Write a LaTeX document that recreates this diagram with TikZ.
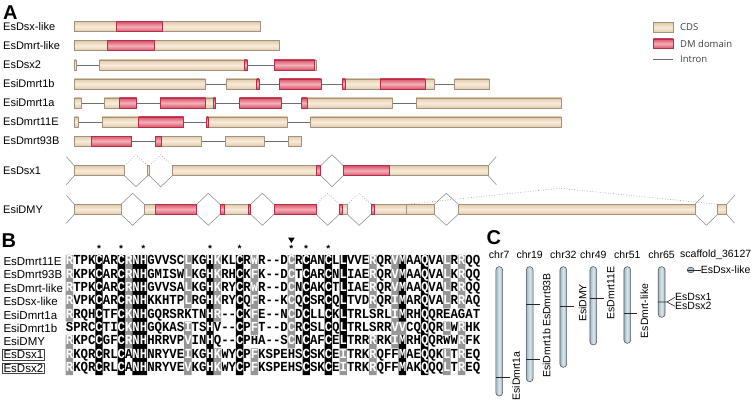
\documentclass[tikz,border=0pt]{standalone}
\usepackage{fontspec}
\usetikzlibrary{shapes.geometric}
\setmainfont{Liberation Sans}
\newfontfamily\monofont{Liberation Mono}
\newfontfamily\legfont{Open Sans}
\definecolor{cdsmid}{HTML}{F8EBDB}
\definecolor{cdsedge}{HTML}{E3CBAB}
\definecolor{cdsline}{HTML}{A0927F}
\definecolor{dmmid}{HTML}{F4B0B8}
\definecolor{dmedge}{HTML}{D9536A}
\definecolor{dmline}{HTML}{B52E45}
\definecolor{intronc}{HTML}{6E6E6E}
\definecolor{splicec}{HTML}{8C8C8C}
\definecolor{algray}{HTML}{969696}
\definecolor{chrmid}{HTML}{D8E5EA}
\definecolor{chredge}{HTML}{A3B9C3}
\definecolor{chrline}{HTML}{505A60}
\tikzset{
 cdsbox/.style={draw=cdsline, line width=0.6pt, top color=cdsedge, bottom color=cdsedge, middle color=cdsmid},
 dmbox/.style={draw=dmline, line width=0.6pt, top color=dmedge, bottom color=dmedge, middle color=dmmid},
 intron/.style={draw=intronc, line width=0.7pt},
 splice/.style={draw=splicec, line width=0.55pt},
 spliced/.style={draw=splicec, line width=0.6pt, dotted},
 genelab/.style={anchor=west, inner sep=0pt, font=\fontsize{11}{13}\selectfont},
 panellab/.style={anchor=west, inner sep=0pt, font=\bfseries\fontsize{20}{20}\selectfont},
 leglab/.style={anchor=west, inner sep=0pt, text=black!75, font=\legfont\fontsize{9.5}{11}\selectfont},
 seqname/.style={anchor=west, inner sep=0pt, font=\fontsize{11.5}{13}\selectfont},
 boxname/.style={seqname, draw=black!75, line width=0.5pt, inner sep=1.3pt},
 seqtext/.style={anchor=west, inner sep=0pt, font=\monofont\bfseries\fontsize{12.33}{13}\selectfont},
 starlab/.style={inner sep=0pt, font=\monofont\bfseries\fontsize{10}{10}\selectfont},
 chrlab/.style={inner sep=0pt, font=\fontsize{10.5}{12}\selectfont},
 chrbox/.style={draw=chrline, line width=0.6pt, rounded corners=3.2pt, left color=chredge, right color=chredge, middle color=chrmid},
 chrtick/.style={draw=black!85, line width=0.6pt},
}
\newcommand\ex[3]{\path[cdsbox] (#1,#3-5) rectangle (#2,#3+5);}
\newcommand\dm[3]{\path[dmbox] (#1,#3-5) rectangle (#2,#3+5);}
\newcommand\intr[3]{\draw[intron] (#1,#3) -- (#2,#3);}
\newcommand\vlow[3]{\draw[splice] (#1,#3+5) -- ({(#1+#2)/2},#3+16) -- (#2,#3+5);}
\newcommand\vhigh[3]{\draw[splice] (#1,#3-5) -- ({(#1+#2)/2},#3-16) -- (#2,#3-5);}
\newcommand\vhighd[3]{\draw[spliced] (#1,#3-5) -- ({(#1+#2)/2},#3-16) -- (#2,#3-5);}
\newcommand\cellrect[3]{({65.7+(#1-1)*7.4},{255.03+(#2-1)*13.333}) rectangle ({65.7+#1*7.4},{255.03+#3*13.333})}
\def\seqlist{RTPKCARCRNHGVVSCLKGHKKLCRWR-{}-DCRCANCLLVVERQRVMAAQVALRRQQ,
RKPKCARCRNHGMISWLKGHKRHCKFK-{}-DCTCARCNLIAERQRVMAAQVALKRQQ,
RTPKCARCRNHGVVSALKGHKRYCRWR-{}-DCNCAKCTLIAERQRVMAAQVALRRQQ,
RVPKCARCRNHKKHTPLRGHKRYCQFR-{}-KCQCSRCQLTVDRQRIMARQVALRRAQ,
RRQHCTFCKNHGQRSRKTNHR-{}-CKFE-{}-NCDCLLCKLTRLSRLIMRHQQREAGAT,
SPRCCTICKNHGQKASITSHV-{}-CPFT-{}-DCRCSLCQLTRLSRRVVCQQQRLWRHK,
RKPCCGFCRNHHRRVPVINHQ-{}-CPHA-{}-SCNCAFCELTRRRRKIMRHQQRWWRFK,
RKQRCRLCANHNRYVEIKGHKWYCPFKSPEHSCSKCEITRKRQFFMAEQQKLTREQ,
RKQRCRLCANHNRYVEVKGHKWYCPFKSPEHSCSKCEITRKRQFFMAKQQQLTREQ}
\def\blacklist{5/1/9,8/1/9,10/1/9,11/1/9,20/1/9,24/1/9,33/1/9,36/1/9,38/1/7,46/1/5,46/7/9,49/1/9}
\def\graylist{1/1/5,1/7/9,9/1/7,17/1/4,17/6/9,21/1/5,21/8/9,26/1/6,26/8/9,31/1/7,38/8/9,42/1/4,42/7/9,45/1/7,46/6/6,52/1/4,52/6/6,52/8/9,54/1/4,54/6/9}
\begin{document}
\begin{tikzpicture}[x=1pt,y=-1pt,line join=round]
\useasboundingbox[fill=white] (0,0) rectangle (754,401);
% ---------------- panel A
\node[panellab] (pA) at (3,12.5) {A};
\def\ya{26.7}\def\yb{45.7}\def\yc{65}\def\yd{84}\def\ye{103}\def\yf{122}\def\yg{141}\def\yh{170.7}\def\yi{209.3}
\node[genelab] (g1) at (3,\ya) {EsDsx-like};
\node[genelab] (g2) at (3,\yb) {EsDmrt-like};
\node[genelab] (g3) at (3,\yc) {EsDsx2};
\node[genelab] (g4) at (3,\yd) {EsiDmrt1b};
\node[genelab] (g5) at (3,\ye) {EsiDmrt1a};
\node[genelab] (g6) at (3,\yf) {EsDmrt11E};
\node[genelab] (g7) at (3,\yg) {EsDmrt93B};
\node[genelab] (g8) at (3,\yh) {EsDsx1};
\node[genelab] (g9) at (3,\yi) {EsiDMY};
% row 1
\ex{74}{260.3}{\ya} \dm{116}{162.7}{\ya}
% row 2
\ex{74}{279.3}{\yb} \dm{107.3}{154.3}{\yb}
% row 3
\intr{76.7}{99.5}{\yc} \intr{247.3}{274}{\yc}
\ex{74.3}{76.7}{\yc} \ex{99.5}{247.3}{\yc} \dm{244.3}{247.3}{\yc} \ex{274}{316}{\yc} \dm{274}{314.7}{\yc}
% row 4
\intr{205.3}{226}{\yd} \intr{259}{279.3}{\yd} \intr{321.7}{342.3}{\yd} \intr{434}{454.7}{\yd}
\ex{74.3}{205.3}{\yd} \ex{226}{259}{\yd} \dm{256.7}{259}{\yd} \ex{279.3}{321.7}{\yd} \dm{279.3}{321}{\yd}
\ex{342.3}{434}{\yd} \dm{342.3}{345}{\yd} \dm{380}{425}{\yd} \ex{454.7}{489.3}{\yd}
% row 5
\intr{81.3}{104.3}{\ye} \intr{136.7}{160}{\ye} \intr{215.7}{239.3}{\ye} \intr{281.7}{301.7}{\ye} \intr{392.7}{416}{\ye}
\ex{74.3}{81.3}{\ye} \ex{104.3}{136.7}{\ye} \dm{119.3}{136.7}{\ye}
\ex{160}{215.7}{\ye} \dm{160}{205.7}{\ye} \dm{213.3}{215.7}{\ye}
\dm{239.3}{281.7}{\ye} \ex{301.7}{392.7}{\ye} \dm{301.7}{307.3}{\ye} \ex{416}{561.3}{\ye}
% row 6
\intr{78.3}{102}{\yf} \intr{183.7}{206.7}{\yf} \intr{287.3}{310.7}{\yf}
\ex{74.3}{78.3}{\yf} \ex{102}{183.7}{\yf} \dm{138.7}{183.7}{\yf}
\ex{206.7}{287.3}{\yf} \dm{206.7}{208.2}{\yf} \ex{310.7}{561.3}{\yf}
% row 7
\intr{131.7}{155}{\yg} \intr{201.7}{225.7}{\yg} \intr{264.3}{288.3}{\yg}
\ex{74.3}{131.7}{\yg} \dm{91}{131.7}{\yg} \ex{155}{201.7}{\yg} \dm{155}{161.7}{\yg}
\ex{225.7}{264.3}{\yg} \ex{288.3}{301.3}{\yg}
% row 8 EsDsx1
\draw[splice] (74.3,\yh-5) -- ++(-8,-9);
\draw[splice] (74.3,\yh+5) -- ++(-8,9);
\draw[splice] (488.3,\yh-5) -- ++(8,-9);
\draw[splice] (488.3,\yh+5) -- ++(8,9);
\vlow{124.3}{147.7}{\yh} \vlow{149.3}{172.3}{\yh} \vlow{320.7}{343.3}{\yh} \vhigh{320.7}{343.3}{\yh}
\vhighd{124.3}{147.7}{\yh} \vhighd{149.3}{172.3}{\yh}
\ex{74.3}{124.3}{\yh} \ex{147.7}{149.3}{\yh} \ex{172.3}{320.7}{\yh} \dm{316.7}{320.7}{\yh}
\ex{343.3}{488.3}{\yh} \dm{343.3}{389}{\yh}
% row 9 EsiDMY
\draw[splice] (74.3,\yi-5) -- ++(-8,-9);
\draw[splice] (74.3,\yi+5) -- ++(-8,9);
\draw[splice] (726.7,\yi-5) -- ++(8,-9);
\draw[splice] (726.7,\yi+5) -- ++(8,9);
\vlow{121}{144.3}{\yi} \vlow{196.7}{220}{\yi} \vlow{250.7}{274}{\yi} \vlow{316}{339.3}{\yi}
\vlow{347.3}{371}{\yi} \vlow{434.3}{458.3}{\yi} \vlow{695}{717.7}{\yi}
\vhigh{121}{144.3}{\yi} \vhigh{196.7}{220}{\yi} \vhigh{250.7}{274}{\yi} \vhigh{434.3}{458.3}{\yi}
\vhighd{316}{339.3}{\yi} \vhighd{347.3}{371}{\yi}
\draw[spliced] (406.3,\yi-5) -- (560,\yi-21) -- (717.7,\yi-5);
\draw[splice] (695,\yi-5) -- ++(9,-9);
\ex{74.3}{121}{\yi} \ex{144.3}{196.7}{\yi} \dm{155.3}{196.7}{\yi}
\ex{220}{250.7}{\yi} \dm{220}{224}{\yi} \dm{248}{250.7}{\yi}
\dm{274}{316}{\yi} \ex{339.3}{347.3}{\yi} \dm{339.3}{342}{\yi}
\ex{371}{406.3}{\yi} \dm{371}{374.7}{\yi} \ex{406.3}{434.3}{\yi}
\ex{458.3}{695}{\yi} \ex{717.7}{726.7}{\yi}
% legend
\path[cdsbox] (653.3,22.7) rectangle (673.3,32.3);
\path[dmbox] (653.3,39) rectangle (673.3,48.3);
\draw[intron] (653.3,59.3) -- (673.3,59.3);
\node[leglab] (lg1) at (680,27.5) {CDS};
\node[leglab] (lg2) at (680,43.7) {DM domain};
\node[leglab] (lg3) at (680,59.5) {Intron};
% ---------------- panel B
\node[panellab] (pB) at (1.5,241) {B};
\node[seqname] (n1) at (3.3,261.7) {EsDmrt11E};
\node[seqname] (n2) at (3.3,275.03) {EsDmrt93B};
\node[seqname] (n3) at (3.3,288.37) {EsDmrt-like};
\node[seqname] (n4) at (3.3,301.7) {EsDsx-like};
\node[seqname] (n5) at (3.3,315.03) {EsiDmrt1a};
\node[seqname] (n6) at (3.3,328.37) {EsiDmrt1b};
\node[seqname] (n7) at (3.3,341.7) {EsiDMY};
\node[boxname] (n8) at (2,355.03) {EsDsx1};
\node[boxname] (n9) at (2,368.37) {EsDsx2};
\foreach \s [count=\i] in \seqlist {\node[seqtext] (s\i) at (65.7,{261.7+(\i-1)*13.333}) {\scalebox{1}[1.12]{\s}};}
\fill[algray] \foreach \c/\a/\b in \graylist {\cellrect{\c}{\a}{\b}};
\fill[black] \foreach \c/\a/\b in \blacklist {\cellrect{\c}{\a}{\b}};
\begin{scope}
\clip \foreach \c/\a/\b in \graylist {\cellrect{\c}{\a}{\b}} \foreach \c/\a/\b in \blacklist {\cellrect{\c}{\a}{\b}};
\foreach \s [count=\i] in \seqlist {\node[seqtext,text=white] (w\i) at (65.7,{261.7+(\i-1)*13.333}) {\scalebox{1}[1.12]{\s}};}
\end{scope}
\foreach \c in {5,8,11,20,24,31,33,36} {\node[starlab] (st\c) at ({69.4+(\c-1)*7.4},248.8) {*};}
\fill[black] (288,237.5) -- (294.8,237.5) -- (291.4,243) -- cycle;
% ---------------- panel C
\node[panellab] (pC) at (486.5,238) {C};
\node[chrbox, minimum width=6.7pt, minimum height=129.3pt, inner sep=0pt] (c7) at (499.2,331.3) {};
\node[chrbox, minimum width=6.7pt, minimum height=115pt, inner sep=0pt] (c19) at (529.7,324.2) {};
\node[chrbox, minimum width=6.7pt, minimum height=100.6pt, inner sep=0pt] (c32) at (563.3,317) {};
\node[chrbox, minimum width=6.7pt, minimum height=78.3pt, inner sep=0pt] (c49) at (593.3,305.8) {};
\node[chrbox, minimum width=6.7pt, minimum height=76.6pt, inner sep=0pt] (c51) at (627.3,305) {};
\node[chrbox, minimum width=6.7pt, minimum height=50.6pt, inner sep=0pt] (c65) at (661.6,292) {};
\node[chrlab] (h7) at (499.2,255) {chr7};
\node[chrlab] (h19) at (529.7,255) {chr19};
\node[chrlab] (h32) at (563.3,255) {chr32};
\node[chrlab] (h49) at (593.3,255) {chr49};
\node[chrlab] (h51) at (627.3,255) {chr51};
\node[chrlab] (h65) at (661.6,255) {chr65};
\node[chrlab, anchor=west] (hs) at (680,255) {scaffold\_36127};
% labels
\node[chrlab, rotate=90] (l1a) at (516,376) {EsiDmrt1a};
\node[chrlab, rotate=90] (l93) at (546.7,300) {EsDmrt93B};
\node[chrlab, rotate=90] (l1b) at (546.7,353.3) {EsiDmrt1b};
\node[chrlab, rotate=90] (lmy) at (582.5,303) {EsiDMY};
\node[chrlab, rotate=90] (l11) at (610.8,293) {EsDmrt11E};
\node[chrlab, rotate=90] (lml) at (644.3,311) {EsDmrt-like};
\node[chrlab, anchor=west] (ld1) at (675,297.3) {EsDsx1};
\node[chrlab, anchor=west] (ld2) at (675,306.3) {EsDsx2};
\node[chrlab, anchor=west] (ldl) at (700.7,270) {EsDsx-like};
% ticks
\draw[chrtick] (c7.west |- 0,377.5) -- (510,377.5);
\draw[chrtick] (c19.west |- 0,304) -- (540,304);
\draw[chrtick] (c19.west |- 0,359.3) -- (540,359.3);
\draw[chrtick] (c32.west |- 0,306.7) -- (574,306.7);
\draw[chrtick] (c49.west |- 0,298.3) -- (604,298.3);
\draw[chrtick] (c51.west |- 0,313.3) -- (636.7,313.3);
\coordinate (f65) at (667,302);
\draw[chrtick] (c65.west |- f65) -- (f65) -- (ld1.west);
\draw[chrtick] (f65) -- (ld2.west);
\draw[chrtick] (687.3,270) -- (ldl.west);
\node[draw=chrline, line width=0.6pt, fill=chredge!70!chrmid, ellipse, minimum width=6.8pt, minimum height=5.6pt, inner sep=0pt] (sc) at (690.7,270) {};
\draw[chrtick] (sc.west) -- (sc.east);
\end{tikzpicture}
\end{document}
